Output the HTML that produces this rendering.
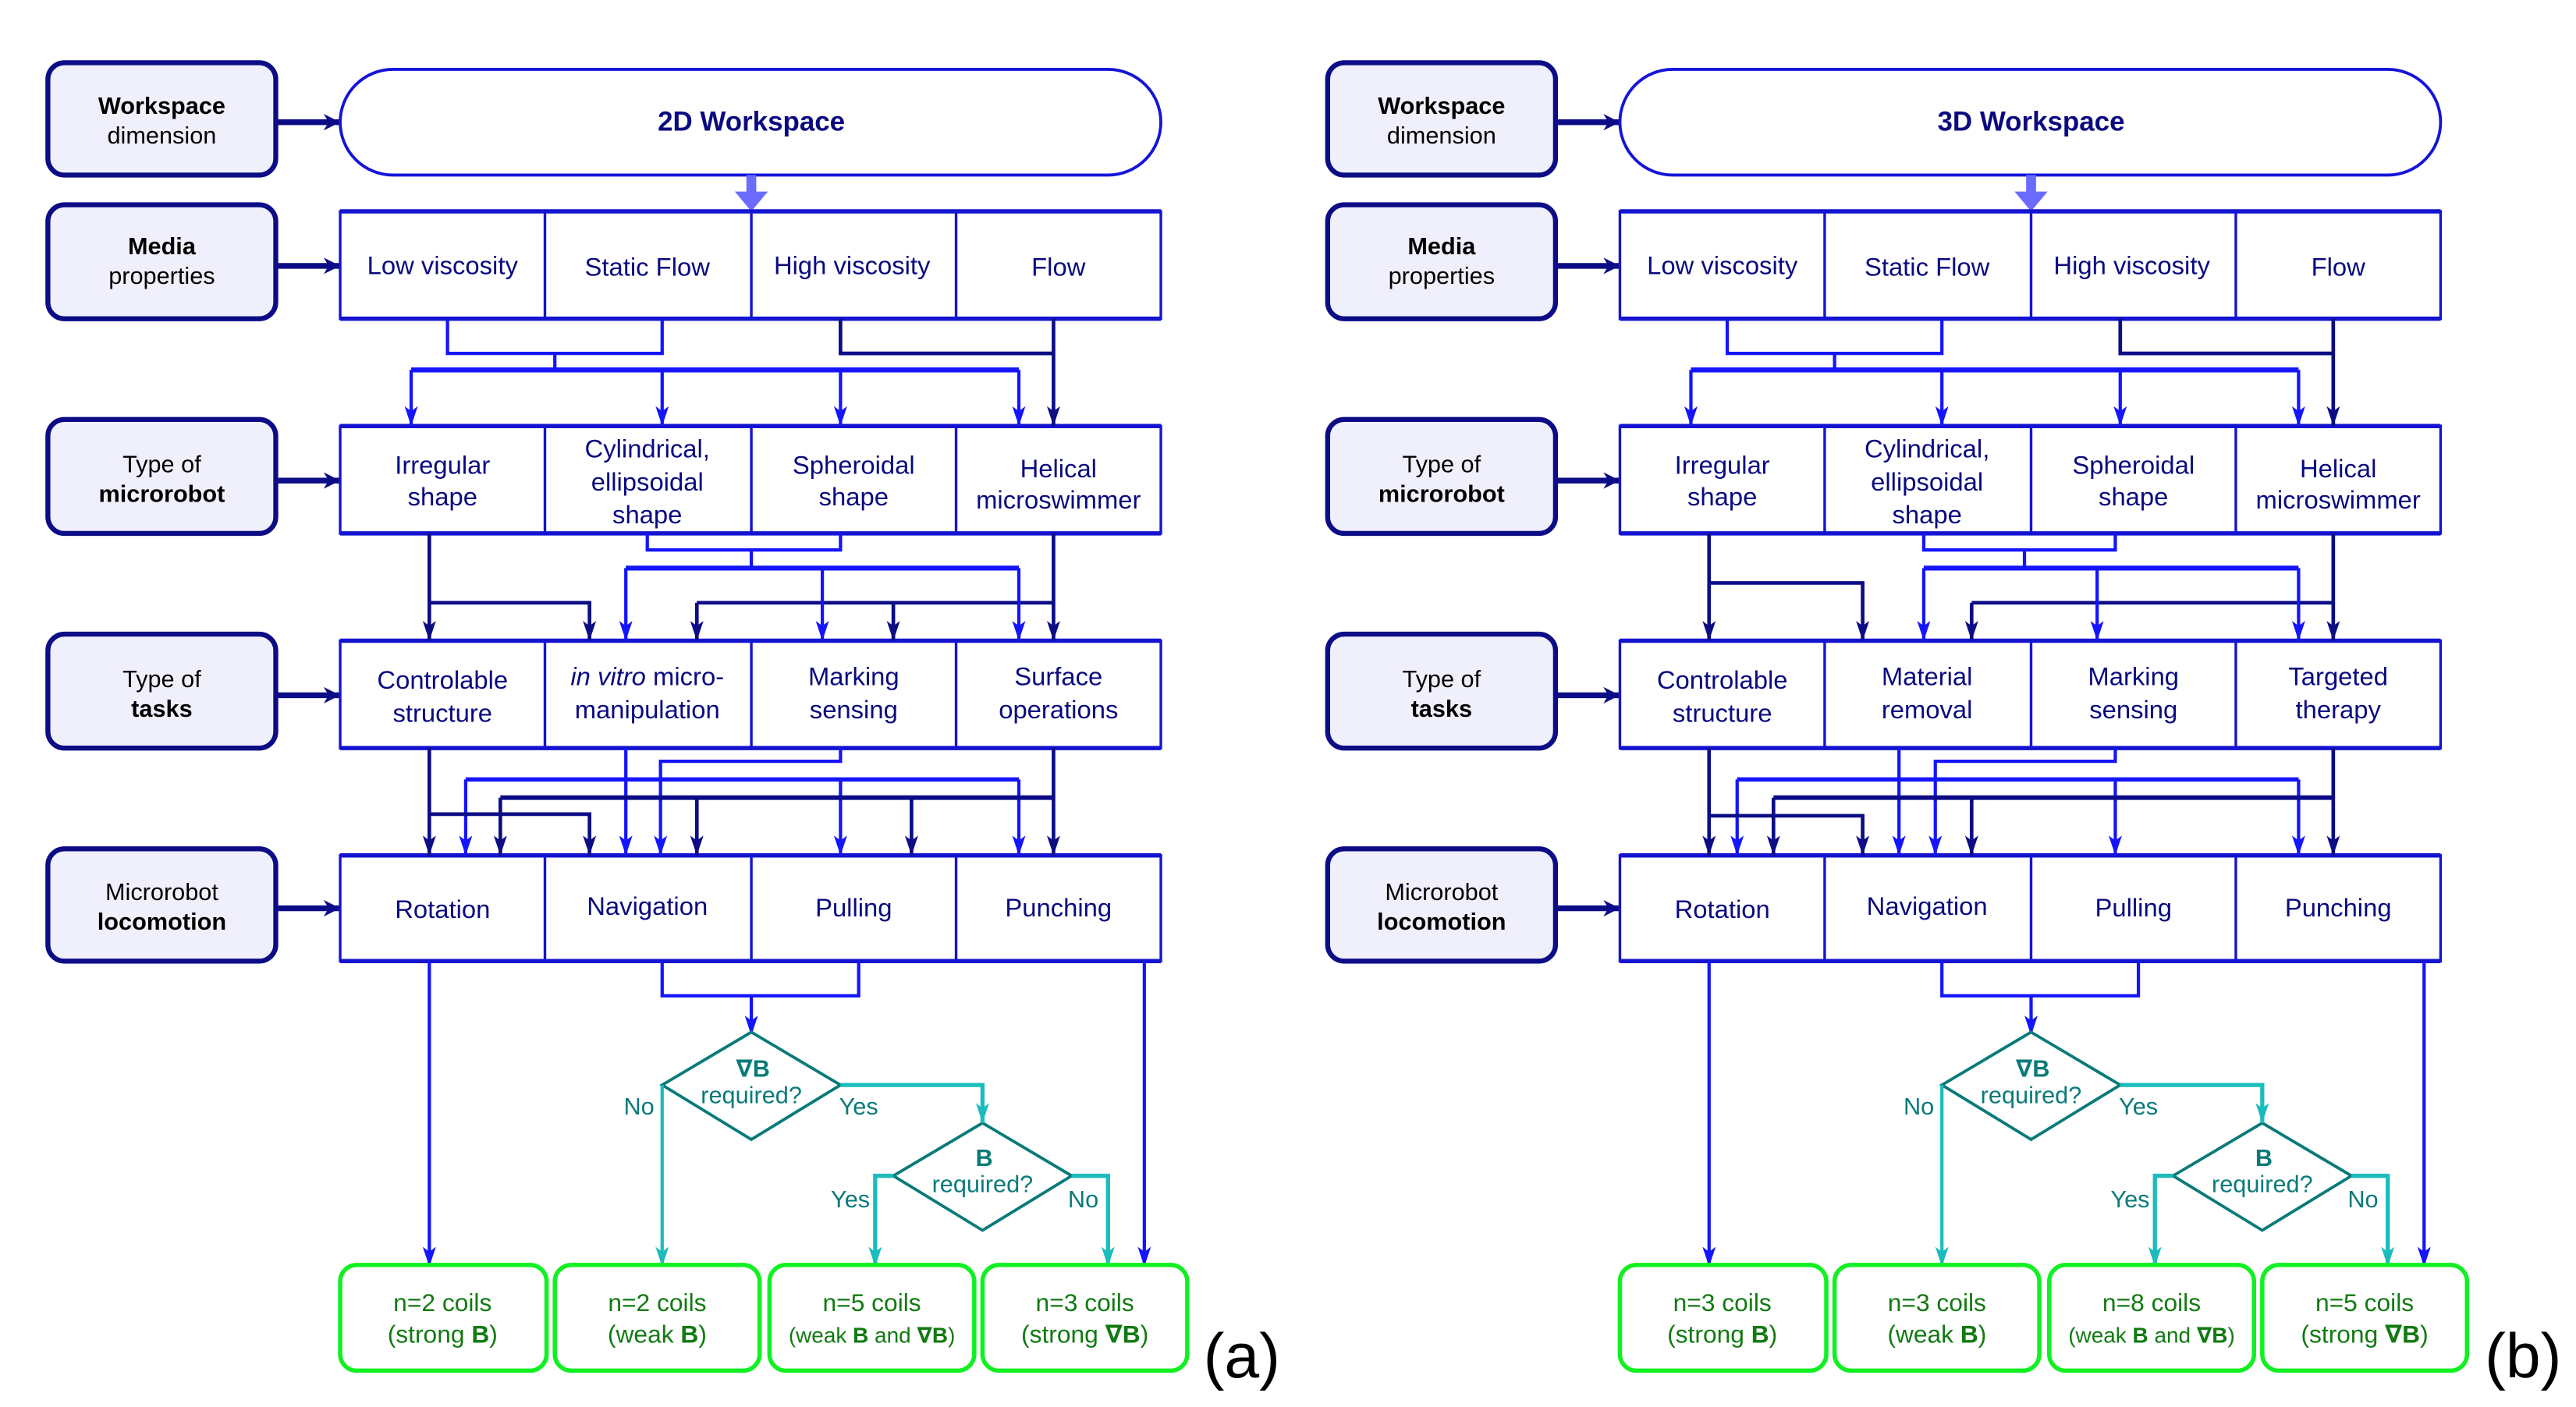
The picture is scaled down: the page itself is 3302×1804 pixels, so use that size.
<!DOCTYPE html>
<html><head><meta charset="utf-8"><style>
html,body{margin:0;padding:0;background:#fff;}
svg{display:block;}
text{font-family:"Liberation Sans","DejaVu Sans",sans-serif;}
</style></head><body>
<svg width="3302" height="1804" viewBox="0 0 1560 852" preserveAspectRatio="none" xmlns="http://www.w3.org/2000/svg" xmlns:xlink="http://www.w3.org/1999/xlink">
<defs>
<marker id="mn" markerUnits="userSpaceOnUse" markerWidth="12" markerHeight="10" refX="12" refY="4" orient="auto"><path d="M0,0 L12,4 L0,8 L3,4z" fill="#0c0c86"/></marker>
<marker id="mb" markerUnits="userSpaceOnUse" markerWidth="12" markerHeight="10" refX="12" refY="4" orient="auto"><path d="M0,0 L12,4 L0,8 L3,4z" fill="#1414ff"/></marker>
<marker id="mt" markerUnits="userSpaceOnUse" markerWidth="12" markerHeight="10" refX="12" refY="4" orient="auto"><path d="M0,0 L12,4 L0,8 L3,4z" fill="#1cbcbc"/></marker>
<marker id="mh" markerUnits="userSpaceOnUse" markerWidth="12" markerHeight="10" refX="10" refY="5" orient="auto"><path d="M0,0 L10,5 L0,10 L3,5z" fill="#0c0c86"/></marker>
</defs>

<g id="common">
 <g fill="#f0f0fc" stroke="#0c0c86" stroke-width="3">
  <rect x="29" y="38" width="138" height="68" rx="10"/>
  <rect x="29" y="124" width="138" height="69" rx="10"/>
  <rect x="29" y="254" width="138" height="69" rx="10"/>
  <rect x="29" y="384" width="138" height="69" rx="10"/>
  <rect x="29" y="514" width="138" height="68" rx="10"/>
 </g>
 <g stroke="#0c0c86" stroke-width="3.5" marker-end="url(#mh)">
  <path d="M167,74 H206"/><path d="M167,161 H206"/><path d="M167,291 H206"/><path d="M167,421 H206"/><path d="M167,550 H206"/>
 </g>
 <g fill="#000" font-size="14.5" text-anchor="middle">
  <text x="98" y="69" font-weight="bold">Workspace</text><text x="98" y="87">dimension</text>
  <text x="98" y="154" font-weight="bold">Media</text><text x="98" y="172">properties</text>
  <text x="98" y="286">Type of</text><text x="98" y="304" font-weight="bold">microrobot</text>
  <text x="98" y="416">Type of</text><text x="98" y="434" font-weight="bold">tasks</text>
  <text x="98" y="545">Microrobot</text><text x="98" y="563" font-weight="bold">locomotion</text>
 </g>
 <rect x="206" y="42" width="497" height="64" rx="32" fill="#fff" stroke="#1414d8" stroke-width="1.8"/>
 <path d="M455,106 V118" stroke="#6b6bff" stroke-width="6"/>
 <path d="M445,116 L465,116 L455,128z" fill="#6b6bff"/>
 <g fill="none" stroke="#1414d0" stroke-width="1.6">
  <rect x="206" y="128" width="497" height="65"/><path d="M330,128V193M455,128V193M579,128V193"/>
  <rect x="206" y="258" width="497" height="65"/><path d="M330,258V323M455,258V323M579,258V323"/>
  <rect x="206" y="388" width="497" height="65"/><path d="M330,388V453M455,388V453M579,388V453"/>
  <rect x="206" y="518" width="497" height="64"/><path d="M330,518V582M455,518V582M579,518V582"/>
 </g>
 <g fill="none" stroke="#1414d0" stroke-width="2.6">
  <path d="M206,193H703M206,323H703M206,453H703M206,518H703M206,582H703M206,388H703M206,258H703M206,128H703"/>
 </g>
 <g fill="none" stroke="#1414ff" stroke-width="2">
  <path d="M271,193V214H401V193M336,214V224"/>
  <path d="M249,224H617" stroke-width="3"/>
 </g>
 <g fill="none" stroke="#1414ff" stroke-width="2" marker-end="url(#mb)">
  <path d="M249,224V258"/><path d="M401,224V258"/><path d="M509,224V258"/><path d="M617,224V258"/>
 </g>
 <g fill="none" stroke="#0c0c86" stroke-width="2.2">
  <path d="M509,193V214H638"/>
  <path d="M638,193V258" marker-end="url(#mn)"/>
 </g>
 <g fill="none" stroke="#1414ff" stroke-width="2">
  <path d="M260,582V767" marker-end="url(#mb)"/>
  <path d="M401,582V603H520V582"/>
  <path d="M455,603V627" marker-end="url(#mb)"/>
  <path d="M693,582V767" marker-end="url(#mb)"/>
 </g>
 <g fill="#fff" stroke="#0a7a7a" stroke-width="1.8">
  <path d="M455,625 L509,657 L455,690 L401,657z"/>
  <path d="M595,680 L649,712 L595,745 L541,712z"/>
 </g>
 <g fill="none" stroke="#1cbcbc" stroke-width="2">
  <path d="M401,657V767" marker-end="url(#mt)"/>
  <path d="M509,657H595V680" marker-end="url(#mt)" stroke-width="2.5"/>
  <path d="M541,712H530V767" marker-end="url(#mt)" stroke-width="2.5"/>
  <path d="M649,712H671V767" marker-end="url(#mt)" stroke-width="2.5"/>
 </g>
 <g fill="#0a7a7a" font-size="14.5" text-anchor="middle">
  <text x="456" y="652" font-weight="bold">∇B</text><text x="455" y="668">required?</text>
  <text x="596" y="706" font-weight="bold">B</text><text x="595" y="722">required?</text>
  <text x="387" y="675">No</text><text x="520" y="675">Yes</text>
  <text x="515" y="731">Yes</text><text x="656" y="731">No</text>
 </g>
 <g fill="#fff" stroke="#11f022" stroke-width="2.6">
  <rect x="206" y="766" width="125" height="64" rx="10"/>
  <rect x="336" y="766" width="124" height="64" rx="10"/>
  <rect x="466" y="766" width="124" height="64" rx="10"/>
  <rect x="595" y="766" width="124" height="64" rx="10"/>
 </g>
</g>

<use href="#common" xlink:href="#common" x="775" y="0"/>

<g fill="#0a0a80" font-size="15.5" text-anchor="middle">
 <text x="455" y="79" font-weight="bold" font-size="16.5">2D Workspace</text>
 <text x="268" y="166">Low viscosity</text><text x="392" y="167">Static Flow</text>
 <text x="516" y="166">High viscosity</text><text x="641" y="167">Flow</text>
 <text x="268" y="287">Irregular</text><text x="268" y="306">shape</text>
 <text x="392" y="277">Cylindrical,</text><text x="392" y="297">ellipsoidal</text><text x="392" y="317">shape</text>
 <text x="517" y="287">Spheroidal</text><text x="517" y="306">shape</text>
 <text x="641" y="289">Helical</text><text x="641" y="308">microswimmer</text>
 <text x="268" y="417">Controlable</text><text x="268" y="437">structure</text>
 <text x="392" y="415"><tspan font-style="italic">in vitro</tspan> micro-</text><text x="392" y="435">manipulation</text>
 <text x="517" y="415">Marking</text><text x="517" y="435">sensing</text>
 <text x="641" y="415">Surface</text><text x="641" y="435">operations</text>
 <text x="268" y="556">Rotation</text><text x="392" y="554">Navigation</text>
 <text x="517" y="555">Pulling</text><text x="641" y="555">Punching</text>
</g>
<g fill="#117a11" font-size="15" text-anchor="middle">
 <text x="268" y="794">n=2 coils</text><text x="268" y="813">(strong <tspan font-weight="bold">B</tspan>)</text>
 <text x="398" y="794">n=2 coils</text><text x="398" y="813">(weak <tspan font-weight="bold">B</tspan>)</text>
 <text x="528" y="794">n=5 coils</text><text x="528" y="813" font-size="13.2">(weak <tspan font-weight="bold">B</tspan> and <tspan font-weight="bold">∇B</tspan>)</text>
 <text x="657" y="794">n=3 coils</text><text x="657" y="813">(strong <tspan font-weight="bold">∇B</tspan>)</text>
</g>
<text x="752" y="834" font-family="'Liberation Serif',serif" font-size="38" text-anchor="middle" fill="#000">(a)</text>
<g fill="none" stroke="#0c0c86" stroke-width="2.2">
 <path d="M422,365H638"/>
 <path d="M260,323V388" marker-end="url(#mn)"/>
 <path d="M260,365H357V388" marker-end="url(#mn)"/>
 <path d="M638,323V388" marker-end="url(#mn)"/>
 <path d="M422,365V388" marker-end="url(#mn)"/>
 <path d="M541,365V388" marker-end="url(#mn)"/>
</g>
<g fill="none" stroke="#1414ff" stroke-width="2">
 <path d="M392,323V333H509V323M455,333V344"/>
 <path d="M379,344H617" stroke-width="3"/>
 <path d="M379,344V388" marker-end="url(#mb)"/>
 <path d="M498,344V388" marker-end="url(#mb)"/>
 <path d="M617,344V388" marker-end="url(#mb)"/>
</g>
<g fill="none" stroke="#1414ff" stroke-width="2">
 <path d="M282,472H617" stroke-width="2.6"/>
 <path d="M379,453V518" marker-end="url(#mb)"/>
 <path d="M509,453V461H400V518" marker-end="url(#mb)"/>
 <path d="M282,472V518" marker-end="url(#mb)"/>
 <path d="M509,472V518" marker-end="url(#mb)"/>
 <path d="M617,472V518" marker-end="url(#mb)"/>
</g>
<g fill="none" stroke="#0c0c86" stroke-width="2.2">
 <path d="M303,483H638" stroke-width="2.8"/>
 <path d="M260,453V518" marker-end="url(#mn)"/>
 <path d="M260,493H357V518" marker-end="url(#mn)"/>
 <path d="M638,453V518" marker-end="url(#mn)"/>
 <path d="M303,483V518" marker-end="url(#mn)"/>
 <path d="M422,483V518" marker-end="url(#mn)"/>
 <path d="M552,483V518" marker-end="url(#mn)"/>
</g>

<g fill="#0a0a80" font-size="15.5" text-anchor="middle">
 <text x="1230" y="79" font-weight="bold" font-size="16.5">3D Workspace</text>
 <text x="1043" y="166">Low viscosity</text><text x="1167" y="167">Static Flow</text>
 <text x="1291" y="166">High viscosity</text><text x="1416" y="167">Flow</text>
 <text x="1043" y="287">Irregular</text><text x="1043" y="306">shape</text>
 <text x="1167" y="277">Cylindrical,</text><text x="1167" y="297">ellipsoidal</text><text x="1167" y="317">shape</text>
 <text x="1292" y="287">Spheroidal</text><text x="1292" y="306">shape</text>
 <text x="1416" y="289">Helical</text><text x="1416" y="308">microswimmer</text>
 <text x="1043" y="417">Controlable</text><text x="1043" y="437">structure</text>
 <text x="1167" y="415">Material</text><text x="1167" y="435">removal</text>
 <text x="1292" y="415">Marking</text><text x="1292" y="435">sensing</text>
 <text x="1416" y="415">Targeted</text><text x="1416" y="435">therapy</text>
 <text x="1043" y="556">Rotation</text><text x="1167" y="554">Navigation</text>
 <text x="1292" y="555">Pulling</text><text x="1416" y="555">Punching</text>
</g>
<g fill="#117a11" font-size="15" text-anchor="middle">
 <text x="1043" y="794">n=3 coils</text><text x="1043" y="813">(strong <tspan font-weight="bold">B</tspan>)</text>
 <text x="1173" y="794">n=3 coils</text><text x="1173" y="813">(weak <tspan font-weight="bold">B</tspan>)</text>
 <text x="1303" y="794">n=8 coils</text><text x="1303" y="813" font-size="13.2">(weak <tspan font-weight="bold">B</tspan> and <tspan font-weight="bold">∇B</tspan>)</text>
 <text x="1432" y="794">n=5 coils</text><text x="1432" y="813">(strong <tspan font-weight="bold">∇B</tspan>)</text>
</g>
<text x="1528" y="834" font-family="'Liberation Serif',serif" font-size="38" text-anchor="middle" fill="#000">(b)</text>
<g transform="translate(775,0)">
 <g fill="none" stroke="#0c0c86" stroke-width="2.2">
  <path d="M419,365H638"/>
  <path d="M260,323V388" marker-end="url(#mn)"/>
  <path d="M260,353H353V388" marker-end="url(#mn)"/>
  <path d="M638,323V388" marker-end="url(#mn)"/>
  <path d="M419,365V388" marker-end="url(#mn)"/>
 </g>
 <g fill="none" stroke="#1414ff" stroke-width="2">
  <path d="M390,323V333H506V323M451,333V344"/>
  <path d="M390,344H617" stroke-width="3"/>
  <path d="M390,344V388" marker-end="url(#mb)"/>
  <path d="M495,344V388" marker-end="url(#mb)"/>
  <path d="M617,344V388" marker-end="url(#mb)"/>
 </g>
 <g fill="none" stroke="#1414ff" stroke-width="2">
  <path d="M277,472H617" stroke-width="2.6"/>
  <path d="M375,453V518" marker-end="url(#mb)"/>
  <path d="M506,453V461H397V518" marker-end="url(#mb)"/>
  <path d="M277,472V518" marker-end="url(#mb)"/>
  <path d="M506,472V518" marker-end="url(#mb)"/>
  <path d="M617,472V518" marker-end="url(#mb)"/>
 </g>
 <g fill="none" stroke="#0c0c86" stroke-width="2.2">
  <path d="M299,483H638" stroke-width="2.8"/>
  <path d="M260,453V518" marker-end="url(#mn)"/>
  <path d="M260,494H353V518" marker-end="url(#mn)"/>
  <path d="M638,453V518" marker-end="url(#mn)"/>
  <path d="M299,483V518" marker-end="url(#mn)"/>
  <path d="M419,483V518" marker-end="url(#mn)"/>
 </g>
</g>
</svg>
</body></html>
